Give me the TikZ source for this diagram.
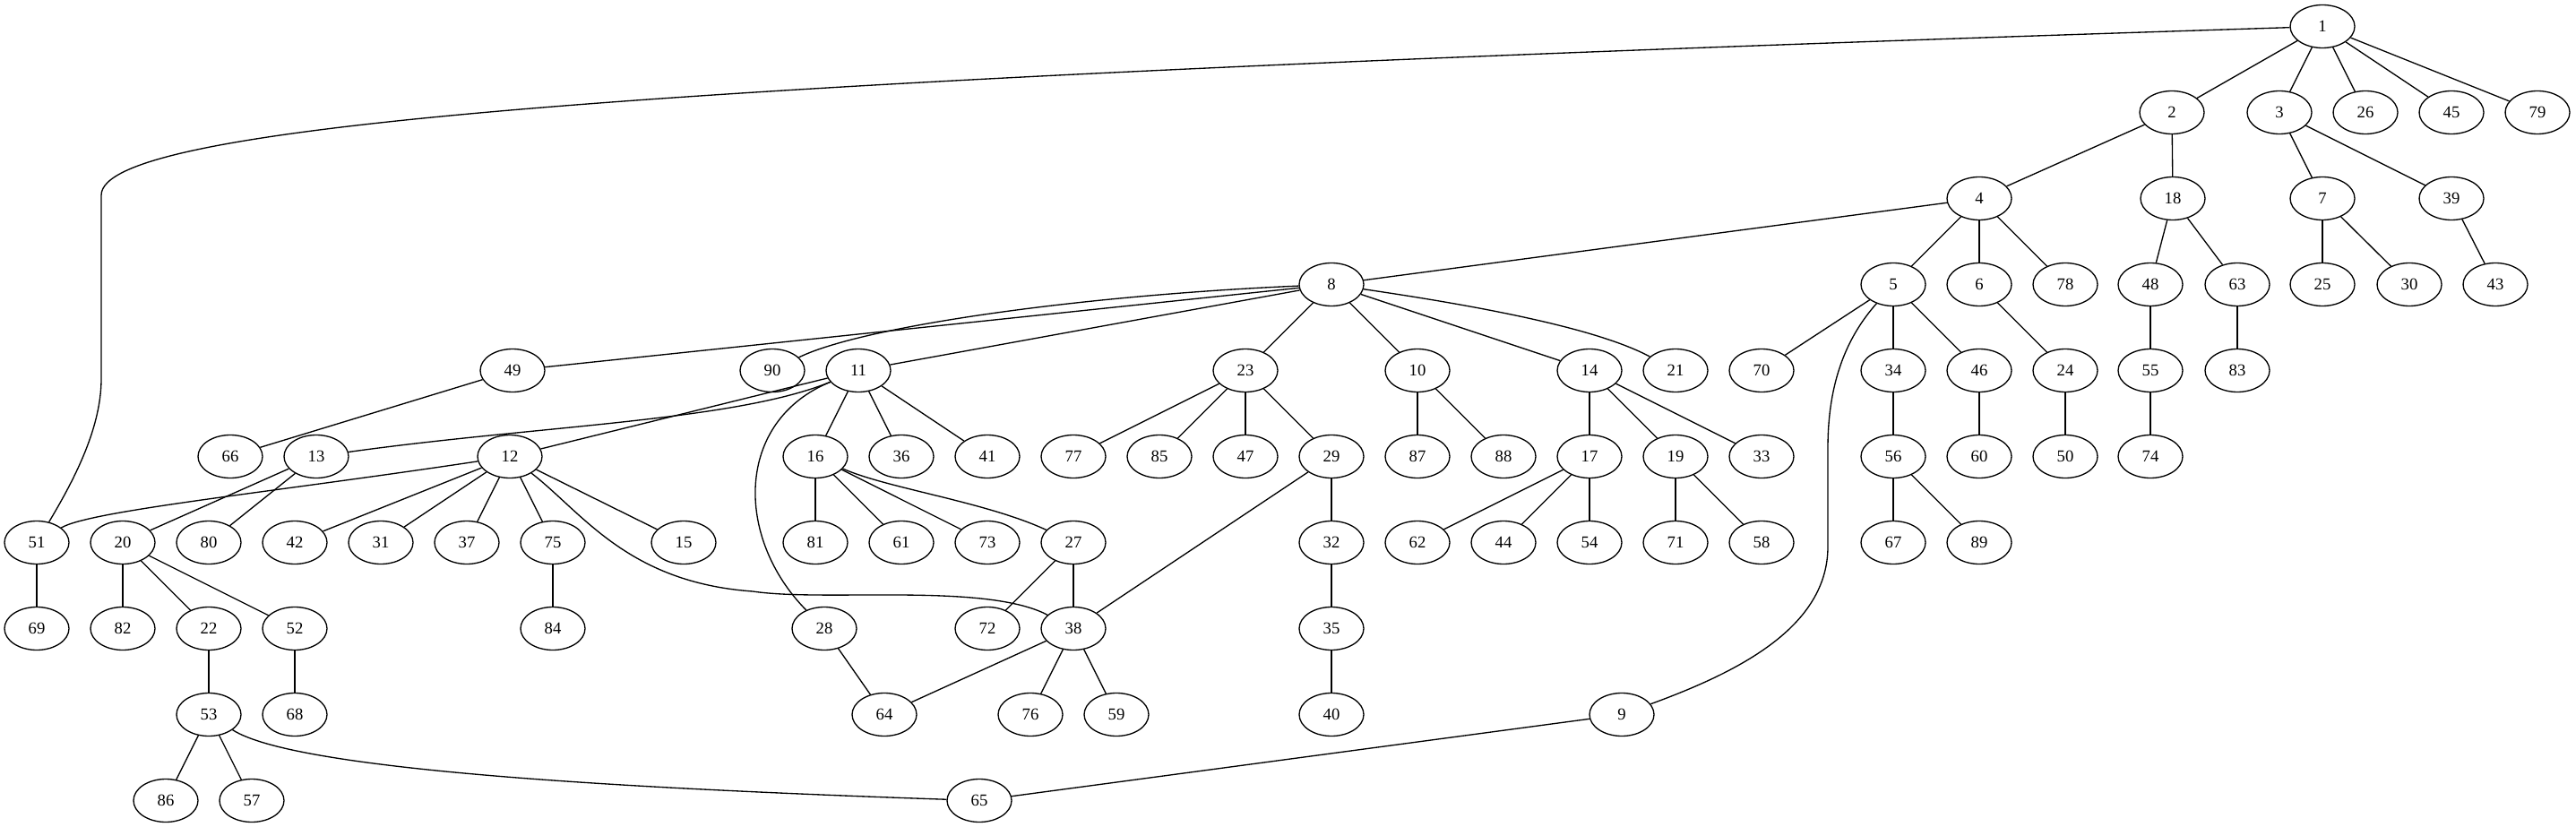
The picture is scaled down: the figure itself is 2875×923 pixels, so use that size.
\documentclass[tikz,border=0pt]{standalone}
\usepackage{fontspec}
\setmainfont{Liberation Serif}
\usetikzlibrary{shapes.geometric}
\tikzset{vertex/.style={draw, ellipse, line width=1pt, minimum width=54pt, minimum height=36pt, inner sep=0pt, font=\fontsize{14}{16}\selectfont}}

\begin{document}
\begin{tikzpicture}[x=0.75pt, y=-0.75pt, line width=1pt]
		%%%%% START %%%%%
		\useasboundingbox (0,0) rectangle (2875,923);
		
		% rank 0 and 1
		\node[vertex] (n1) at (2592,29.5) {1};
		\node[vertex] (n2) at (2424,125.5) {2};
		\node[vertex] (n3) at (2544,125.5) {3};
		\node[vertex] (n26) at (2640,125.5) {26};
		\node[vertex] (n45) at (2736,125.5) {45};
		\node[vertex] (n79) at (2832,125.5) {79};
		
		% rank 2
		\node[vertex] (n4) at (2209,221.5) {4};
		\node[vertex] (n18) at (2425,221.5) {18};
		\node[vertex] (n7) at (2592,221.5) {7};
		\node[vertex] (n39) at (2736,221.5) {39};
		
		% rank 3
		\node[vertex] (n8) at (1486,317.5) {8};
		\node[vertex] (n5) at (2113,317.5) {5};
		\node[vertex] (n6) at (2209,317.5) {6};
		\node[vertex] (n78) at (2305,317.5) {78};
		\node[vertex] (n48) at (2400,317.5) {48};
		\node[vertex] (n63) at (2497,317.5) {63};
		\node[vertex] (n25) at (2592,317.5) {25};
		\node[vertex] (n30) at (2689,317.5) {30};
		\node[vertex] (n43) at (2785,317.5) {43};
		
		% rank 4
		\node[vertex] (n49) at (572,413.5) {49};
		\node[vertex] (n90) at (862,413.5) {90};
		\node[vertex] (n11) at (958,413.5) {11};
		\node[vertex] (n23) at (1390,413.5) {23};
		\node[vertex] (n10) at (1582,413.5) {10};
		\node[vertex] (n14) at (1774,413.5) {14};
		\node[vertex] (n21) at (1870,413.5) {21};
		\node[vertex] (n70) at (1966,413.5) {70};
		\node[vertex] (n34) at (2113,413.5) {34};
		\node[vertex] (n46) at (2209,413.5) {46};
		\node[vertex] (n24) at (2305,413.5) {24};
		\node[vertex] (n55) at (2400,413.5) {55};
		\node[vertex] (n83) at (2497,413.5) {83};
		
		% rank 5
		\node[vertex] (n66) at (257,509.5) {66};
		\node[vertex] (n13) at (353,509.5) {13};
		\node[vertex] (n12) at (569,509.5) {12};
		\node[vertex] (n16) at (910,509.5) {16};
		\node[vertex] (n36) at (1006,509.5) {36};
		\node[vertex] (n41) at (1102,509.5) {41};
		\node[vertex] (n77) at (1198,509.5) {77};
		\node[vertex] (n85) at (1294,509.5) {85};
		\node[vertex] (n47) at (1390,509.5) {47};
		\node[vertex] (n29) at (1486,509.5) {29};
		\node[vertex] (n87) at (1582,509.5) {87};
		\node[vertex] (n88) at (1678,509.5) {88};
		\node[vertex] (n17) at (1774,509.5) {17};
		\node[vertex] (n19) at (1870,509.5) {19};
		\node[vertex] (n33) at (1966,509.5) {33};
		\node[vertex] (n56) at (2113,509.5) {56};
		\node[vertex] (n60) at (2209,509.5) {60};
		\node[vertex] (n50) at (2305,509.5) {50};
		\node[vertex] (n74) at (2400,509.5) {74};
		
		% rank 6
		\node[vertex] (n51) at (41,605.5) {51};
		\node[vertex] (n20) at (137,605.5) {20};
		\node[vertex] (n80) at (233,605.5) {80};
		\node[vertex] (n42) at (329,605.5) {42};
		\node[vertex] (n31) at (425,605.5) {31};
		\node[vertex] (n37) at (521,605.5) {37};
		\node[vertex] (n75) at (617,605.5) {75};
		\node[vertex] (n15) at (763,605.5) {15};
		\node[vertex] (n81) at (910,605.5) {81};
		\node[vertex] (n61) at (1006,605.5) {61};
		\node[vertex] (n73) at (1102,605.5) {73};
		\node[vertex] (n27) at (1198,605.5) {27};
		\node[vertex] (n32) at (1486,605.5) {32};
		\node[vertex] (n62) at (1582,605.5) {62};
		\node[vertex] (n44) at (1678,605.5) {44};
		\node[vertex] (n54) at (1774,605.5) {54};
		\node[vertex] (n71) at (1870,605.5) {71};
		\node[vertex] (n58) at (1966,605.5) {58};
		\node[vertex] (n67) at (2113,605.5) {67};
		\node[vertex] (n89) at (2209,605.5) {89};
		
		% rank 7
		\node[vertex] (n69) at (41,701.5) {69};
		\node[vertex] (n82) at (137,701.5) {82};
		\node[vertex] (n22) at (233,701.5) {22};
		\node[vertex] (n52) at (329,701.5) {52};
		\node[vertex] (n84) at (617,701.5) {84};
		\node[vertex] (n28) at (920,701.5) {28};
		\node[vertex] (n72) at (1102,701.5) {72};
		\node[vertex] (n38) at (1198,701.5) {38};
		\node[vertex] (n35) at (1486,701.5) {35};
		
		% rank 8 and 9
		\node[vertex] (n53) at (233,797.5) {53};
		\node[vertex] (n68) at (329,797.5) {68};
		\node[vertex] (n64) at (987,797.5) {64};
		\node[vertex] (n76) at (1150,797.5) {76};
		\node[vertex] (n59) at (1246,797.5) {59};
		\node[vertex] (n40) at (1486,797.5) {40};
		\node[vertex] (n9) at (1810,797.5) {9};
		\node[vertex] (n86) at (185,893.5) {86};
		\node[vertex] (n57) at (281,893.5) {57};
		\node[vertex] (n65) at (1093,893.5) {65};
		
		% straight edges
		\draw (n1) -- (n2);
		\draw (n1) -- (n3);
		\draw (n1) -- (n26);
		\draw (n1) -- (n45);
		\draw (n1) -- (n79);
		\draw (n2) -- (n4);
		\draw (n2) -- (n18);
		\draw (n3) -- (n7);
		\draw (n3) -- (n39);
		\draw (n4) -- (n8);
		\draw (n4) -- (n5);
		\draw (n4) -- (n6);
		\draw (n4) -- (n78);
		\draw (n18) -- (n48);
		\draw (n18) -- (n63);
		\draw (n7) -- (n25);
		\draw (n7) -- (n30);
		\draw (n39) -- (n43);
		\draw (n8) -- (n49);
		\draw (n8) -- (n11);
		\draw (n8) -- (n23);
		\draw (n8) -- (n10);
		\draw (n8) -- (n14);
		\draw (n5) -- (n70);
		\draw (n5) -- (n34);
		\draw (n5) -- (n46);
		\draw (n6) -- (n24);
		\draw (n48) -- (n55);
		\draw (n63) -- (n83);
		\draw (n49) -- (n66);
		\draw (n11) -- (n12);
		\draw (n11) -- (n16);
		\draw (n11) -- (n36);
		\draw (n11) -- (n41);
		\draw (n23) -- (n77);
		\draw (n23) -- (n85);
		\draw (n23) -- (n47);
		\draw (n23) -- (n29);
		\draw (n10) -- (n87);
		\draw (n10) -- (n88);
		\draw (n14) -- (n17);
		\draw (n14) -- (n19);
		\draw (n14) -- (n33);
		\draw (n34) -- (n56);
		\draw (n46) -- (n60);
		\draw (n24) -- (n50);
		\draw (n55) -- (n74);
		\draw (n13) -- (n20);
		\draw (n13) -- (n80);
		\draw (n12) -- (n42);
		\draw (n12) -- (n31);
		\draw (n12) -- (n37);
		\draw (n12) -- (n75);
		\draw (n12) -- (n15);
		\draw (n16) -- (n81);
		\draw (n16) -- (n61);
		\draw (n16) -- (n73);
		\draw (n29) -- (n32);
		\draw (n29) -- (n38);
		\draw (n17) -- (n62);
		\draw (n17) -- (n44);
		\draw (n17) -- (n54);
		\draw (n19) -- (n71);
		\draw (n19) -- (n58);
		\draw (n56) -- (n67);
		\draw (n56) -- (n89);
		\draw (n51) -- (n69);
		\draw (n20) -- (n82);
		\draw (n20) -- (n22);
		\draw (n20) -- (n52);
		\draw (n75) -- (n84);
		\draw (n27) -- (n72);
		\draw (n27) -- (n38);
		\draw (n32) -- (n35);
		\draw (n22) -- (n53);
		\draw (n52) -- (n68);
		\draw (n38) -- (n64);
		\draw (n38) -- (n76);
		\draw (n38) -- (n59);
		\draw (n28) -- (n64);
		\draw (n35) -- (n40);
		\draw (n53) -- (n86);
		\draw (n53) -- (n57);
		\draw (n9) -- (n65);
		
		% curved edges
		\draw (n1) .. controls (700,90) and (113,140) .. (113,218) -- (113,423) .. controls (113,480) and (80,540) .. (n51);
		\draw (n8) .. controls (1200,330) and (960,365) .. (n90);
		\draw (n8) .. controls (1640,340) and (1780,365) .. (n21);
		\draw (n11) .. controls (820,470) and (600,475) .. (n13);
		\draw (n11) .. controls (820,470) and (820,600) .. (n28);
		\draw (n12) .. controls (300,550) and (100,570) .. (n51);
		\draw (n12) .. controls (650,572) and (700,650) .. (840,660) .. controls (920,672) and (1100,650) .. (n38);
		\draw (n16) .. controls (990,545) and (1100,560) .. (n27);
		\draw (n5) .. controls (2065,372) and (2040,420) .. (2040,500) -- (2040,610) .. controls (2040,700) and (1940,750) .. (n9);
		\draw (n53) .. controls (330,860) and (700,880) .. (n65);
		
		%%%%% END %%%%%
\end{tikzpicture}
\end{document}
